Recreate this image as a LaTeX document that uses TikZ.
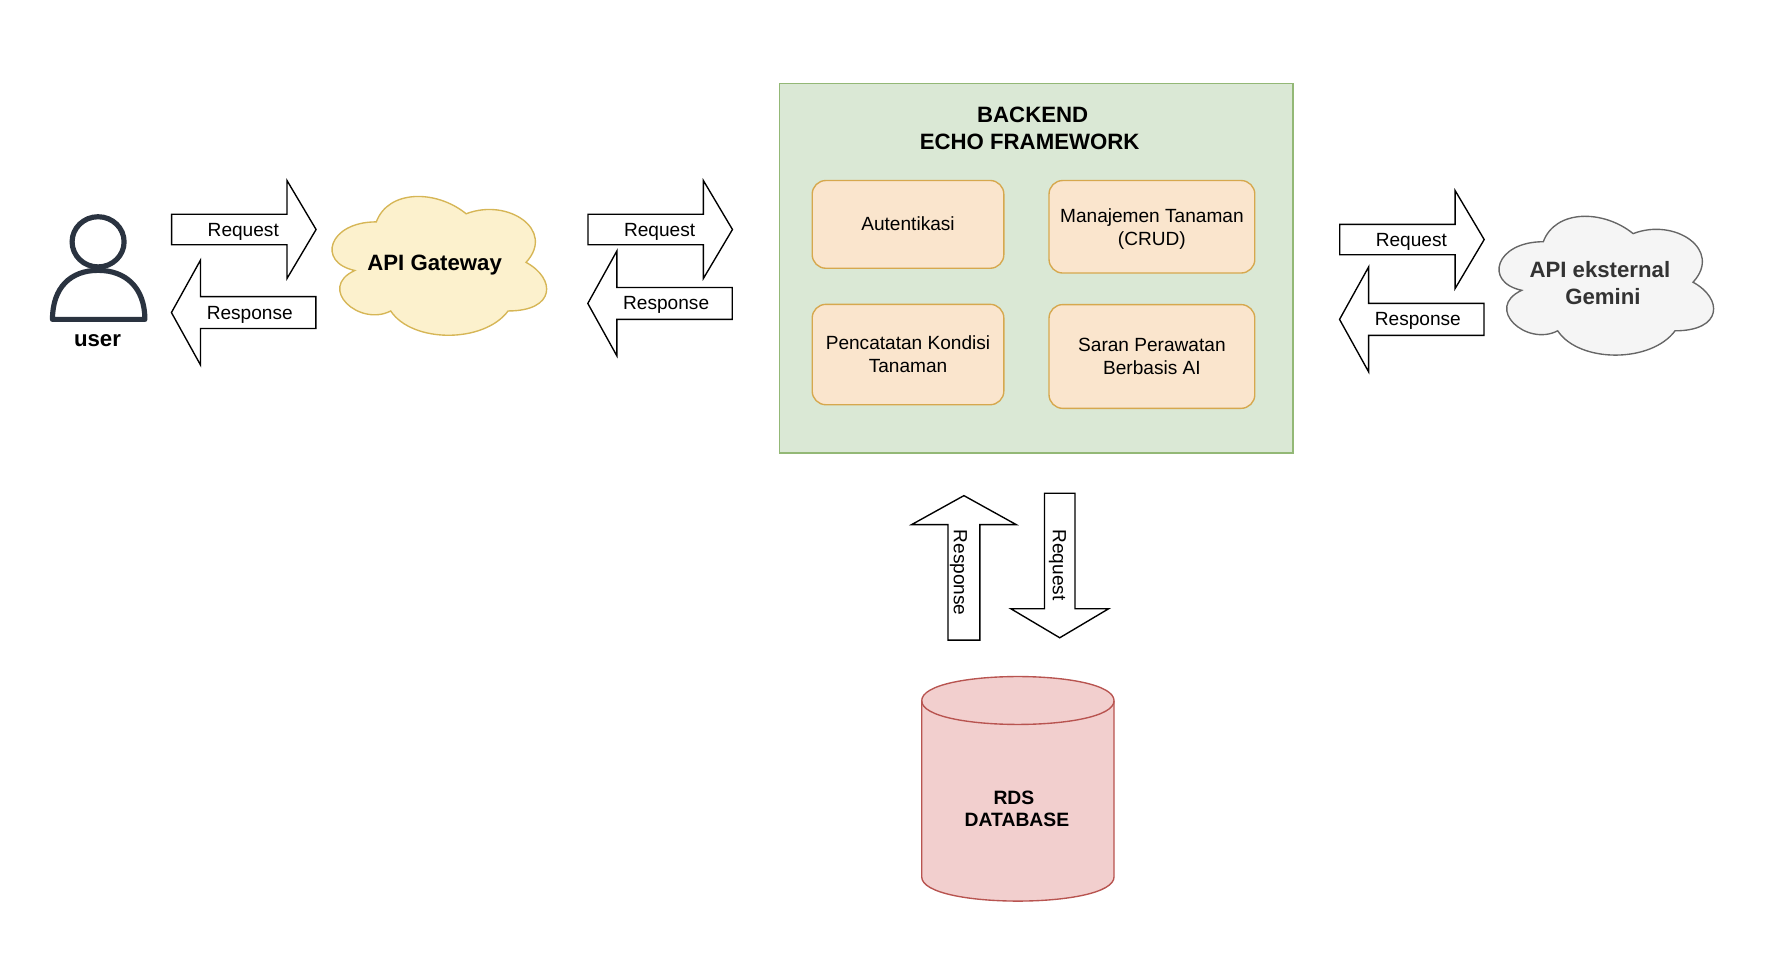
\documentclass[tikz,border=0pt]{standalone}
\usepackage{fontspec}
\setmainfont{Liberation Sans}
\usetikzlibrary{shapes.arrows}
\definecolor{backfill}{HTML}{DAE8D5}
\definecolor{backline}{HTML}{93B876}
\definecolor{boxfill}{HTML}{FAE5CD}
\definecolor{boxline}{HTML}{D6A84E}
\definecolor{gatefill}{HTML}{FCF1CD}
\definecolor{gateline}{HTML}{D6B656}
\definecolor{apifill}{HTML}{F5F5F5}
\definecolor{apiline}{HTML}{666666}
\definecolor{apitext}{HTML}{333333}
\definecolor{dbfill}{HTML}{F2CFCE}
\definecolor{dbline}{HTML}{B85450}
\definecolor{usercol}{HTML}{2A3340}
\tikzset{
  bigtext/.style={font=\fontsize{14.6}{18}\selectfont\bfseries,align=center,inner sep=0pt},
  fn/.style={font=\fontsize{12.55}{15}\selectfont,align=center},
  blockarrow/.style={fn,single arrow,draw=black,fill=white,line width=0.9pt,inner sep=0pt,outer sep=0pt,
    minimum height=95pt,single arrow head indent=0pt},
  reqarrow/.style={blockarrow,text height=13.85pt,text depth=5.25pt,minimum width=63.5pt,
    single arrow head extend=22.2pt,single arrow tip angle=118.6},
  resarrow/.style={blockarrow,text height=14.35pt,text depth=5.75pt,minimum width=68pt,
    single arrow head extend=23.95pt,single arrow tip angle=122,shape border rotate=180},
  featbox/.style={fn,draw=boxline,fill=boxfill,line width=0.9pt,rounded corners=9pt,inner sep=0pt},
  cloudA/.style={draw=gateline,fill=gatefill,line width=0.9pt},
  cloudB/.style={draw=apiline,fill=apifill,line width=0.9pt}
}
% cloud outline, 210 wide and 142 high
\newcommand{\cloudat}[3]{
\draw[#1,shift={(#2,#3)}] (52.5,35.5) .. controls (10.5,35.5) and (0,71) .. (33.6,78.1)
  .. controls (0,93.7) and (37.8,127.8) .. (65.1,113.6)
  .. controls (84,142) and (147,142) .. (168,113.6)
  .. controls (210,113.6) and (210,85.2) .. (183.75,71)
  .. controls (210,42.6) and (168,14.2) .. (131.25,28.4)
  .. controls (105,7.1) and (63,7.1) .. (52.5,35.5) -- cycle;
}
\begin{document}
\begin{tikzpicture}[x=0.75pt,y=-0.75pt]
\useasboundingbox (0,0) rectangle (1568.3,836.3);
% user
\draw[usercol,line width=3.4pt] (86,212) ellipse (22.8 and 22);
\draw[usercol,line width=3.4pt,line join=round] (46,280) .. controls (46,252) and (62,237) .. (86,237)
  .. controls (110,237) and (127,252) .. (127,280) -- cycle;
\node[bigtext] (user) at (85.5,299) {user};
% clouds
\cloudat{cloudA}{277.4}{159}
\cloudat{cloudB}{1300.4}{176.4}
\node[bigtext] (gateway) at (381,232) {API Gateway};
\node[bigtext,text=apitext] (gemini) at (1402.5,248) {API eksternal\\\hspace*{4pt}Gemini};
% backend
\node[draw=backline,fill=backfill,line width=1pt,minimum width=337.5pt,minimum height=243pt,inner sep=0pt,outer sep=0pt] (backend) at (908.4,235) {};
\node[bigtext] (backtitle) at (902.6,112.5) {\hspace*{4pt}BACKEND\\ECHO FRAMEWORK};
\node[featbox,minimum width=126pt,minimum height=57.7pt] (auth) at (796,196.7) {\raisebox{0.6pt}{Autentikasi}};
\node[featbox,minimum width=135.3pt,minimum height=60.8pt] (crud) at (1009.8,198.8) {Manajemen Tanaman\\\smash{(CRUD)}};
\node[featbox,minimum width=126pt,minimum height=66pt] (kondisi) at (796,310.8) {Pencatatan Kondisi\\Tanaman};
\node[featbox,minimum width=135.3pt,minimum height=68.2pt] (saran) at (1009.8,312.5) {Saran Perawatan\\Berbasis AI};
% arrows
\node[reqarrow] (reqgate) at (209.8,201.2) {\hspace*{5.2pt}Request};
\node[resarrow] (resgate) at (217.5,274) {\hspace*{2.2pt}Response};
\node[reqarrow] (reqback) at (574.8,201.2) {\hspace*{5.2pt}Request};
\node[resarrow] (resback) at (582.5,266) {\hspace*{2.2pt}Response};
\node[reqarrow] (reqapi) at (1233.8,210) {\hspace*{5.2pt}Request};
\node[resarrow] (resapi) at (1241.5,280) {\hspace*{2.2pt}Response};
\node[resarrow,rotate=-90,text height=16.65pt,text depth=3.45pt] (resdb) at (845,501.7) {\hspace*{0.4pt}Response};
\node[reqarrow,rotate=-90,text height=14.05pt,text depth=5.05pt] (reqdb) at (929,491.8) {\hspace*{5.2pt}Request};
% database
\draw[draw=dbline,fill=dbfill,line width=0.9pt] (808,614.3) .. controls (808,586) and (976.6,586) .. (976.6,614.3)
  -- (976.6,768.7) .. controls (976.6,797) and (808,797) .. (808,768.7) -- cycle;
\draw[dbline,line width=0.9pt] (808,614.3) .. controls (808,642) and (976.6,642) .. (976.6,614.3);
\node[font=\fontsize{12.7}{15}\selectfont\bfseries,align=center,inner sep=0pt] (db) at (891.5,709) {RDS\hspace*{4pt}\\DATABASE};
\end{tikzpicture}
\end{document}
